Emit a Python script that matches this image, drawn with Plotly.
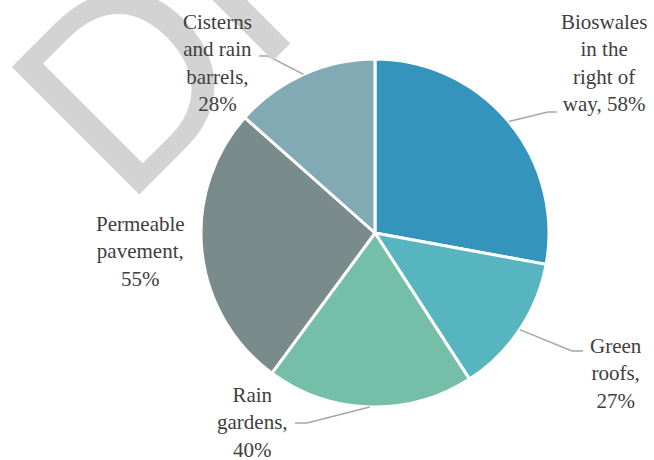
import math
import plotly.graph_objects as go

# Share of respondents using each green-infrastructure practice
categories = [
    "Bioswales in the right of way",
    "Green roofs",
    "Rain gardens",
    "Permeable pavement",
    "Cisterns and rain barrels",
]
values = [58, 27, 40, 55, 28]
label_lines = [
    ["Bioswales", "in the", "right of", "way, 58%"],
    ["Green", "roofs,", "27%"],
    ["Rain", "gardens,", "40%"],
    ["Permeable", "pavement,", "55%"],
    ["Cisterns", "and rain", "barrels,", "28%"],
]
colors = ["#3594BB", "#57B5C0", "#75BEA7", "#7A8B8C", "#82AAB4"]

W, H = 654, 460
CX, CY, R = 375, 233, 174
LABEL_FONT = "Liberation Serif"


def px(x):
    return x / W


def py(y):
    return 1 - y / H


fig = go.Figure()
fig.add_trace(go.Pie(
    labels=categories,
    values=values,
    sort=False,
    direction="clockwise",
    rotation=0,
    marker=dict(colors=colors, line=dict(color="#FFFFFF", width=3)),
    textinfo="none",
    hoverinfo="label+value",
    showlegend=False,
    domain=dict(x=[px(CX - R), px(CX + R)], y=[py(CY + R), py(CY - R)]),
))

# Slice mid-angles (clockwise from 12 o'clock) for leader-line anchors
total = sum(values)
mids = []
acc = 0
for v in values:
    mids.append((acc + v / 2) / total * 2 * math.pi)
    acc += v

# Label blocks: centre position and leader elbow/end (pixels); None = no leader
label_pos = [
    (604, 63, [(548, 112), (557, 112)]),
    (616, 373, [(572, 351), (583, 351)]),
    (253, 422, [(307, 423), (295, 423)]),
    (140, 252, None),
    (217, 63, [(268, 56), (259, 56)]),
]

annotations = [
    # DRAFT watermark
    dict(
        text="DRAFT", x=px(368), y=py(-163), xref="paper", yref="paper",
        showarrow=False, textangle=-45,
        font=dict(family="Liberation Sans", size=262, color="#D3D3D3"),
        xanchor="center", yanchor="middle",
    )
]
shapes = []
for (lx, ly, leader), lines, ang in zip(label_pos, label_lines, mids):
    annotations.append(dict(
        text="<br>".join(lines), x=px(lx), y=py(ly), xref="paper", yref="paper",
        showarrow=False, align="center", xanchor="center", yanchor="middle",
        font=dict(family=LABEL_FONT, size=21, color="#404040"),
    ))
    if leader:
        sx = CX + R * math.sin(ang)
        sy = CY - R * math.cos(ang)
        pts = [(sx, sy)] + leader
        path = "M " + " L ".join(f"{px(x)},{py(y)}" for x, y in pts)
        shapes.append(dict(type="path", path=path, xref="paper", yref="paper",
                           line=dict(color="#A6A6A6", width=1.5)))

fig.update_layout(
    width=W, height=H,
    margin=dict(l=0, r=0, t=0, b=0),
    paper_bgcolor="#FFFFFF",
    plot_bgcolor="#FFFFFF",
    font=dict(family=LABEL_FONT),
    annotations=annotations,
    shapes=shapes,
)

fig.write_html("out.html")
